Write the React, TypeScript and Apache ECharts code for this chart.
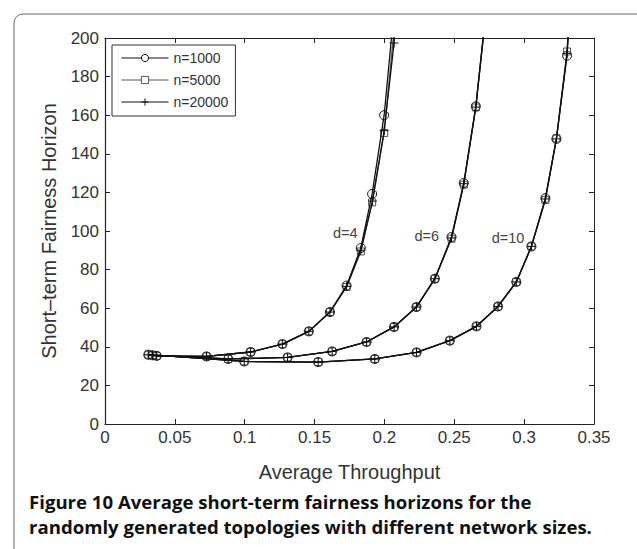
import React, { useEffect, useRef } from "react";
import * as echarts from "echarts";

// Tick labels / axis ranges
const xTicks = [0, 0.05, 0.1, 0.15, 0.2, 0.25, 0.3, 0.35];
const yMax = 200;
const yInterval = 20;

// Network-size series names
const sizeNames = ["n=1000", "n=5000", "n=20000"];

// d=4 group
const d4X = [0.037, 0.0727, 0.1042, 0.127, 0.1459, 0.161, 0.1729, 0.1831, 0.1912, 0.1998, 0.207];
const d4N1000 = [35.3, 35.0, 37.3, 41.4, 48.0, 58.0, 71.7, 91.2, 119.2, 160.0, 215];
const d4N5000 = [35.3, 35.0, 37.3, 41.4, 48.0, 58.0, 71.0, 89.4, 114.8, 150.8, 205];
const d4N20000X = [0.037, 0.0727, 0.1042, 0.127, 0.1459, 0.161, 0.1729, 0.1831, 0.1915, 0.1998, 0.2069, 0.209];
const d4N20000 = [35.3, 35.0, 37.3, 41.4, 48.0, 58.0, 71.3, 90.0, 115.5, 152.0, 197.4, 240];

// d=6 group
const d6X = [0.034, 0.0882, 0.1307, 0.1626, 0.1872, 0.2069, 0.2229, 0.2361, 0.248, 0.2568, 0.2654, 0.2725];
const d6N1000 = [35.6, 33.7, 34.5, 37.6, 42.5, 50.3, 60.6, 75.3, 96.9, 124.9, 164.6, 213];
const d6N5000 = [35.6, 33.7, 34.5, 37.6, 42.5, 50.3, 60.6, 75.3, 96.0, 124.0, 164.0, 212];
const d6N20000 = [35.6, 33.7, 34.5, 37.6, 42.5, 50.3, 60.6, 75.3, 96.4, 124.5, 164.2, 212];

// d=10 group
const d10X = [0.031, 0.0997, 0.1526, 0.1931, 0.223, 0.2468, 0.2659, 0.2813, 0.2944, 0.3052, 0.3152, 0.3231, 0.3307, 0.3355];
const d10N1000 = [35.9, 32.4, 32.1, 33.7, 37.1, 43.2, 50.6, 60.9, 73.6, 92.0, 117.0, 147.7, 190.8, 250];
const d10N5000 = [35.9, 32.4, 32.1, 33.7, 37.1, 43.2, 50.6, 60.9, 73.6, 92.0, 116.0, 148.0, 193.0, 252];
const d10N20000 = [35.9, 32.4, 32.1, 33.7, 37.1, 43.2, 50.6, 60.9, 73.6, 92.0, 116.6, 147.7, 192.0, 251];

// Curve annotations (data coordinates)
const annotations = [
  { text: "d=4", x: 0.172, y: 99 },
  { text: "d=6", x: 0.2303, y: 97.2 },
  { text: "d=10", x: 0.2885, y: 96.4 },
];

const captionLines = [
  "Figure 10 Average short-term fairness horizons for the",
  "randomly generated topologies with different network sizes.",
];

const zip = (xs: number[], ys: number[]) => ys.map((y, i) => [xs[i], y]);

const plusPath = "path://M5,0L5,10M0,5L10,5";

const styles: Record<string, any> = {
  "n=1000": { symbol: "circle", symbolSize: 9, color: "#111" },
  "n=5000": { symbol: "rect", symbolSize: 7, color: "#555" },
  "n=20000": { symbol: plusPath, symbolSize: 9, color: "#111" },
};

function makeSeries(name: string, data: number[][], extra: any = {}) {
  const s = styles[name];
  return {
    type: "line",
    name,
    data,
    symbol: s.symbol,
    symbolSize: s.symbolSize,
    showAllSymbol: true,
    clip: true,
    lineStyle: { color: s.color, width: 1.3 },
    itemStyle: {
      color: "rgba(255,255,255,0)",
      borderColor: s.color,
      borderWidth: 1,
    },
    emphasis: { disabled: true },
    z: name === "n=5000" ? 2 : 3,
    ...extra,
  };
}

export default function App() {
  const ref = useRef<HTMLDivElement>(null);
  useEffect(() => {
    if (!ref.current) return;
    const chart = echarts.init(ref.current, undefined, { renderer: "svg" });
    const axisColor = "#222";
    const labelColor = "#333";
    const font = "Liberation Sans";

    const series: any[] = [
      makeSeries("n=1000", zip(d4X, d4N1000), {
        markPoint: {
          symbol: "circle",
          symbolSize: 0,
          silent: true,
          label: {
            show: true,
            position: "inside",
            color: "#444",
            fontSize: 14.5,
            fontFamily: font,
            formatter: (p: any) => p.name,
          },
          data: annotations.map((a) => ({ name: a.text, coord: [a.x, a.y] })),
        },
      }),
      makeSeries("n=5000", zip(d4X, d4N5000)),
      makeSeries("n=20000", zip(d4N20000X, d4N20000)),
      makeSeries("n=1000", zip(d6X, d6N1000)),
      makeSeries("n=5000", zip(d6X, d6N5000)),
      makeSeries("n=20000", zip(d6X, d6N20000)),
      makeSeries("n=1000", zip(d10X, d10N1000)),
      makeSeries("n=5000", zip(d10X, d10N5000)),
      makeSeries("n=20000", zip(d10X, d10N20000)),
    ];

    chart.setOption({
      animation: false,
      backgroundColor: "#fff",
      grid: { left: 105, right: 43, top: 38, bottom: 125, containLabel: false },
      legend: {
        data: sizeNames,
        orient: "vertical",
        left: 112,
        top: 45,
        padding: [6, 7, 7, 9],
        itemGap: 8,
        itemWidth: 47,
        itemHeight: 9,
        backgroundColor: "#fff",
        borderColor: "#333",
        borderWidth: 1,
        selectedMode: false,
        lineStyle: { width: 1 },
        itemStyle: { borderWidth: 1, color: "#fff" },
        textStyle: { fontSize: 14, color: "#333", fontFamily: font },
      },
      xAxis: [
        {
          type: "value",
          min: xTicks[0],
          max: xTicks[xTicks.length - 1],
          interval: 0.05,
          name: "Average Throughput",
          nameLocation: "middle",
          nameGap: 38,
          nameTextStyle: { fontSize: 20, color: labelColor, fontFamily: font },
          axisLine: { show: true, lineStyle: { color: axisColor, width: 1.2 } },
          axisTick: { show: true, inside: true, length: 5, lineStyle: { color: axisColor } },
          axisLabel: { fontSize: 17, color: labelColor, fontFamily: font, margin: 5 },
          splitLine: { show: false },
        },
        {
          type: "value",
          position: "top",
          min: xTicks[0],
          max: xTicks[xTicks.length - 1],
          interval: 0.05,
          axisLine: { show: true, onZero: false, lineStyle: { color: axisColor, width: 1 } },
          axisTick: { show: true, inside: true, length: 5, lineStyle: { color: axisColor } },
          axisLabel: { show: false },
          splitLine: { show: false },
        },
      ],
      yAxis: [
        {
          type: "value",
          min: 0,
          max: yMax,
          interval: yInterval,
          name: "Short\u2013term Fairness Horizon",
          nameLocation: "middle",
          nameGap: 46,
          nameTextStyle: { fontSize: 20, color: labelColor, fontFamily: font },
          axisLine: { show: true, lineStyle: { color: axisColor, width: 1.2 } },
          axisTick: { show: true, inside: true, length: 5, lineStyle: { color: axisColor } },
          axisLabel: { fontSize: 17, color: labelColor, fontFamily: font, margin: 6 },
          splitLine: { show: false },
        },
        {
          type: "value",
          position: "right",
          min: 0,
          max: yMax,
          interval: yInterval,
          axisLine: { show: true, onZero: false, lineStyle: { color: axisColor, width: 1 } },
          axisTick: { show: true, inside: true, length: 5, lineStyle: { color: axisColor } },
          axisLabel: { show: false },
          splitLine: { show: false },
        },
      ],
      series,
      graphic: [
        {
          type: "rect",
          shape: { x: 14, y: 14, width: 640, height: 560, r: 9 },
          style: { fill: "none", stroke: "#666", lineWidth: 1 },
          silent: true,
          z: 0,
        },
        ...captionLines.map((t, i) => ({
          type: "text",
          x: 29,
          y: 501 + i * 25,
          style: {
            text: t,
            font: 'bold 18.6px "Open Sans"',
            fill: "#111",
            textVerticalAlign: "middle",
          },
          silent: true,
        })),
      ],
    });
    return () => chart.dispose();
  }, []);
  return (
    <div
      ref={ref}
      style={{ position: "absolute", left: 0, top: 0, width: 637, height: 549 }}
    />
  );
}
